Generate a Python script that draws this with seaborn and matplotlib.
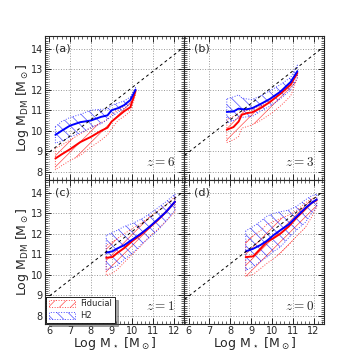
import numpy as np
import pandas as pd
import matplotlib
matplotlib.use("Agg")
import matplotlib.pyplot as plt
import seaborn as sns
from matplotlib.patches import Patch
from matplotlib.ticker import MultipleLocator

# ---------------- data ----------------
panel_labels = ["(a)", "(b)", "(c)", "(d)"]
redshift_labels = ["$z=6$", "$z=3$", "$z=1$", "$z=0$"]
model_names = ["Fiducial", "H2"]

ref_x = [5.8, 12.35]
ref_y = [8.8, 13.98]

# panel (a) z=6
xa = [6.3, 6.6, 7.0, 7.5, 8.0, 8.5, 8.8, 9.0, 9.3, 9.6, 9.9, 10.15]
fid_med_a = [8.65, 8.85, 9.1, 9.45, 9.7, 10.0, 10.15, 10.45, 10.7, 10.95, 11.15, 11.95]
fid_hi_a = [9.15, 9.3, 9.55, 9.85, 10.15, 10.4, 10.55, 10.8, 11.0, 11.2, 11.4, 12.0]
fid_lo_a = [8.1, 8.3, 8.55, 8.8, 9.2, 9.55, 9.8, 10.1, 10.5, 10.7, 10.95, 11.75]
h2_med_a = [9.8, 10.0, 10.25, 10.42, 10.5, 10.68, 10.75, 11.0, 11.1, 11.25, 11.5, 12.0]
h2_hi_a = [10.2, 10.45, 10.65, 10.8, 11.0, 11.05, 11.05, 11.25, 11.35, 11.45, 11.65, 12.1]
h2_lo_a = [9.4, 9.5, 9.7, 9.9, 10.15, 10.35, 10.55, 10.7, 10.9, 11.1, 11.3, 11.85]

# panel (b) z=3
xb = [7.83, 8.15, 8.4, 8.55, 8.8, 9.05, 9.45, 9.9, 10.4, 10.9, 11.22]
fid_med_b = [10.05, 10.18, 10.45, 10.78, 10.86, 10.9, 11.1, 11.4, 11.8, 12.25, 12.82]
fid_hi_b = [10.55, 10.7, 10.86, 10.95, 11.0, 11.03, 11.2, 11.5, 11.9, 12.3, 12.75]
fid_lo_b = [9.42, 9.56, 9.72, 10.13, 10.2, 10.29, 10.5, 10.8, 11.2, 11.7, 12.58]
h2_med_b = [10.92, 10.94, 11.08, 11.05, 11.05, 11.1, 11.3, 11.55, 11.9, 12.38, 12.9]
h2_hi_b = [11.55, 11.65, 11.75, 11.6, 11.55, 11.52, 11.7, 11.95, 12.25, 12.6, 13.2]
h2_lo_b = [10.37, 10.5, 10.62, 10.65, 10.68, 10.7, 10.95, 11.2, 11.55, 12.0, 12.6]

# panel (c) z=1
xc = [8.74, 9.03, 9.27, 9.6, 10.0, 10.4, 10.8, 11.2, 11.6, 12.04]
fid_med_c = [10.83, 10.86, 11.06, 11.3, 11.65, 11.95, 12.3, 12.65, 13.05, 13.56]
fid_hi_c = [11.43, 11.6, 11.76, 12.0, 12.25, 12.5, 12.8, 13.1, 13.4, 13.8]
fid_lo_c = [9.96, 10.08, 10.25, 10.6, 11.0, 11.4, 11.85, 12.2, 12.6, 13.07]
h2_med_c = [11.08, 11.14, 11.28, 11.44, 11.72, 12.0, 12.32, 12.68, 13.05, 13.56]
h2_hi_c = [11.92, 12.05, 12.17, 12.35, 12.5, 12.7, 12.95, 13.25, 13.55, 13.93]
h2_lo_c = [10.24, 10.35, 10.45, 10.75, 11.05, 11.45, 11.8, 12.15, 12.6, 13.15]

# panel (d) z=0
xd = [8.74, 9.1, 9.45, 9.75, 10.1, 10.4, 10.8, 11.2, 11.6, 11.9, 12.15]
fid_med_d = [10.86, 10.9, 11.27, 11.6, 11.8, 12.0, 12.35, 12.8, 13.2, 13.5, 13.64]
fid_hi_d = [11.6, 11.9, 12.15, 12.45, 12.6, 12.75, 12.9, 13.15, 13.5, 13.7, 13.8]
fid_lo_d = [9.92, 10.02, 10.3, 10.55, 10.8, 11.05, 11.45, 11.9, 12.3, 12.8, 13.31]
h2_med_d = [11.14, 11.27, 11.45, 11.65, 11.95, 12.17, 12.45, 12.85, 13.25, 13.5, 13.67]
h2_hi_d = [12.14, 12.35, 12.6, 12.85, 13.0, 13.07, 13.15, 13.35, 13.65, 13.85, 13.93]
h2_lo_d = [10.21, 10.4, 10.65, 10.86, 11.15, 11.35, 11.8, 12.2, 12.55, 13.0, 13.31]

x_ticks = [6, 7, 8, 9, 10, 11, 12]
y_ticks = [8, 9, 10, 11, 12, 13, 14]

# ---------------- style ----------------
sns.set_style("ticks")
plt.rcParams["font.family"] = ["DejaVu Sans"]
plt.rcParams["mathtext.fontset"] = "dejavusans"
plt.rcParams["hatch.linewidth"] = 0.5

RED = "#ff0000"
BLUE = "#0000ff"
palette = {"Fiducial": RED, "H2": BLUE}
hatches = {"Fiducial": "///", "H2": "\\\\\\"}

panels = [
    (xa, fid_med_a, fid_lo_a, fid_hi_a, h2_med_a, h2_lo_a, h2_hi_a),
    (xb, fid_med_b, fid_lo_b, fid_hi_b, h2_med_b, h2_lo_b, h2_hi_b),
    (xc, fid_med_c, fid_lo_c, fid_hi_c, h2_med_c, h2_lo_c, h2_hi_c),
    (xd, fid_med_d, fid_lo_d, fid_hi_d, h2_med_d, h2_lo_d, h2_hi_d),
]

fig, axes = plt.subplots(2, 2, figsize=(3.6, 3.6), dpi=100, sharex=True, sharey=True)
fig.subplots_adjust(left=0.125, right=0.9, bottom=0.1, top=0.9, wspace=0, hspace=0)

for i, ax in enumerate(axes.flat):
    x, fm, flo, fhi, hm, hlo, hhi = panels[i]
    ax.grid(True, which="major", ls=":", color="0.6", lw=0.7)
    ax.set_axisbelow(True)
    # bands
    for name, lo, hi in [("Fiducial", flo, fhi), ("H2", hlo, hhi)]:
        ax.fill_between(x, lo, hi, facecolor="none", edgecolor=palette[name],
                        hatch=hatches[name], linestyle=":", linewidth=0.7, alpha=0.7)
    df = pd.DataFrame({
        "x": list(x) * 2,
        "y": list(fm) + list(hm),
        "model": ["Fiducial"] * len(x) + ["H2"] * len(x),
    })
    sns.lineplot(data=df, x="x", y="y", hue="model", palette=palette, ax=ax,
                 legend=False, lw=1.4, sort=False, estimator=None)
    ax.plot(ref_x, ref_y, ls="--", color="black", lw=0.7, dashes=(3, 3))

    ax.set_xlim(5.8, 12.5)
    ax.set_ylim(7.6, 14.62)
    ax.set_xticks(x_ticks)
    ax.set_yticks(y_ticks)
    ax.xaxis.set_minor_locator(MultipleLocator(0.2))
    ax.yaxis.set_minor_locator(MultipleLocator(0.1))
    ax.tick_params(which="both", direction="in", top=True, right=True, labelsize=7,
                   pad=1.5)
    ax.tick_params(which="major", length=4, width=0.7)
    ax.tick_params(which="minor", length=2, width=0.5)
    for s in ax.spines.values():
        s.set_linewidth(0.8)
    ax.set_xlabel("")
    ax.set_ylabel("")
    ax.text(0.07, 0.91, panel_labels[i], transform=ax.transAxes, fontsize=8,
            ha="left", va="center")
    ax.text(0.93, 0.12, redshift_labels[i], transform=ax.transAxes, fontsize=9.5,
            ha="right", va="center", math_fontfamily="cm")

for ax in axes[:, 0]:
    ax.set_ylabel(r"Log M$_{\rm DM}$ [M$_\odot$]", fontsize=9, labelpad=0)
for ax in axes[1, :]:
    ax.set_xlabel(r"Log M$_\star$ [M$_\odot$]", fontsize=9, labelpad=-1)

handles = [Patch(facecolor="none", edgecolor=palette[n], hatch=hatches[n],
                 linestyle=":", linewidth=0.7, alpha=0.7, label=n) for n in model_names]
leg = axes[1, 0].legend(handles=handles, loc="lower left", fontsize=6, frameon=True,
                        fancybox=False, shadow=True, borderaxespad=0.15,
                        handlelength=3.2, handleheight=0.9, borderpad=0.3,
                        labelspacing=0.35, handletextpad=0.6)
leg.get_frame().set_edgecolor("black")
leg.get_frame().set_linewidth(0.6)

fig.savefig("out.png", dpi=100)
